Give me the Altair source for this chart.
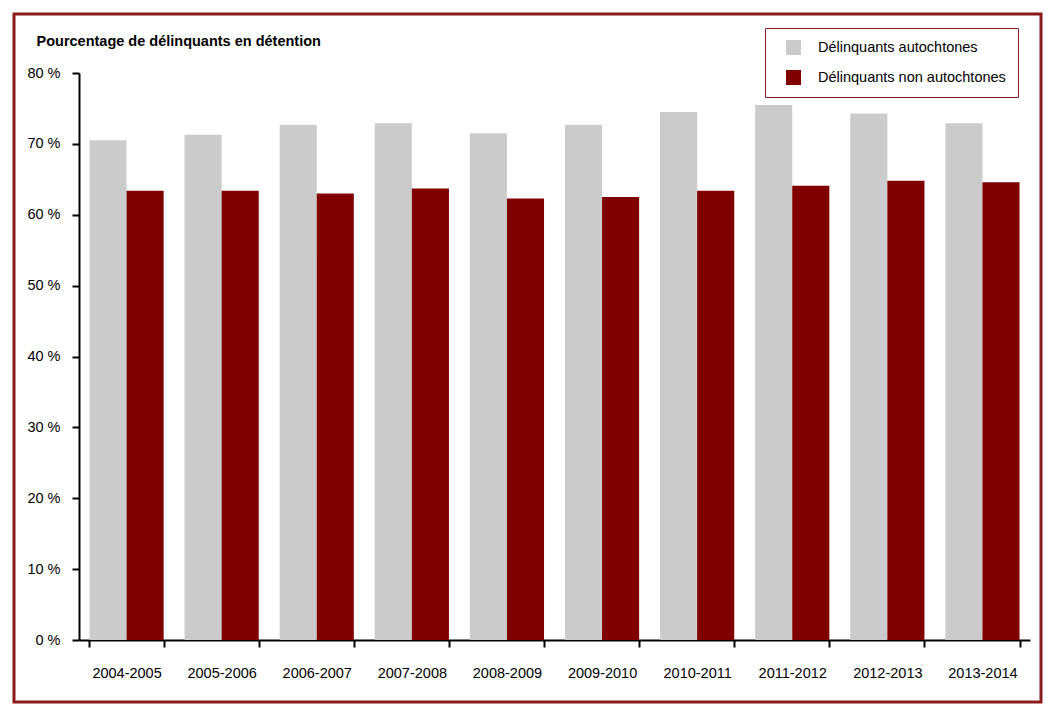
import altair as alt
import pandas as pd

years = ["2004-2005", "2005-2006", "2006-2007", "2007-2008", "2008-2009",
         "2009-2010", "2010-2011", "2011-2012", "2012-2013", "2013-2014"]
autochtones = [70.5, 71.3, 72.7, 72.9, 71.5, 72.7, 74.5, 75.5, 74.3, 72.9]
non_autochtones = [63.4, 63.4, 63.0, 63.7, 62.3, 62.5, 63.4, 64.1, 64.8, 64.6]
series = ["Délinquants autochtones", "Délinquants non autochtones"]
colors = ["#CBCBCB", "#800000"]

rows = []
for y, a, n in zip(years, autochtones, non_autochtones):
    rows.append({"annee": y, "groupe": series[0], "valeur": a})
    rows.append({"annee": y, "groupe": series[1], "valeur": n})
df = pd.DataFrame(rows)

FONT = "Liberation Sans"
W, H = 951, 567

bars = alt.Chart(df).mark_bar().encode(
    x=alt.X("annee:N", sort=years, title=None,
            scale=alt.Scale(paddingInner=0.22, paddingOuter=0.11),
            axis=alt.Axis(tickBand="extent", labelAngle=0, tickSize=7,
                          labelPadding=19, domainColor="#000000", domainWidth=2,
                          tickColor="#000000", tickWidth=2, labelFontSize=14.5,
                          labelColor="#000000", labelFont=FONT)),
    xOffset=alt.XOffset("groupe:N", sort=series, scale=alt.Scale(paddingInner=0, paddingOuter=0)),
    y=alt.Y("valeur:Q", title="Pourcentage de délinquants en détention",
            scale=alt.Scale(domain=[0, 80], nice=False),
            axis=alt.Axis(values=[0, 10, 20, 30, 40, 50, 60, 70, 80],
                          labelExpr="datum.value + ' %'", grid=False,
                          tickSize=7, labelPadding=12, domainColor="#000000",
                          domainWidth=2, tickColor="#000000", tickWidth=2,
                          labelFontSize=14.5, labelColor="#000000", labelFont=FONT,
                          titleAngle=0, titleX=-43, titleY=-32, titleAlign="left",
                          titleBaseline="middle", titleFontSize=14.5, titleFont=FONT,
                          titleFontWeight="bold", titleColor="#000000")),
    color=alt.Color("groupe:N", sort=series,
                    scale=alt.Scale(domain=series, range=colors),
                    legend=alt.Legend(title=None, orient="none", legendX=686, legendY=-45,
                                      symbolType="square", symbolSize=225,
                                      symbolStrokeWidth=0, padding=12,
                                      symbolOffset=9, labelOffset=17, rowPadding=14,
                                      strokeColor="#8B1A1A", fillColor="#FFFFFF",
                                      labelFontSize=14.5, labelFont=FONT,
                                      labelColor="#000000", labelLimit=400)),
)

border = alt.Chart(pd.DataFrame({"k": [0]})).mark_rect(
    fill="transparent", stroke="#8B1A1A", strokeWidth=3
).encode(
    x=alt.value(-65), x2=alt.value(962), y=alt.value(-59), y2=alt.value(629)
)

chart = alt.layer(border, bars).properties(
    width=W, height=H,
    autosize=alt.AutoSizeParams(type="none"),
    padding={"left": 71, "top": 65, "right": 16, "bottom": 66},
).configure_view(stroke=None)

chart.save("out.html", embed_options={"renderer": "svg", "actions": False})
